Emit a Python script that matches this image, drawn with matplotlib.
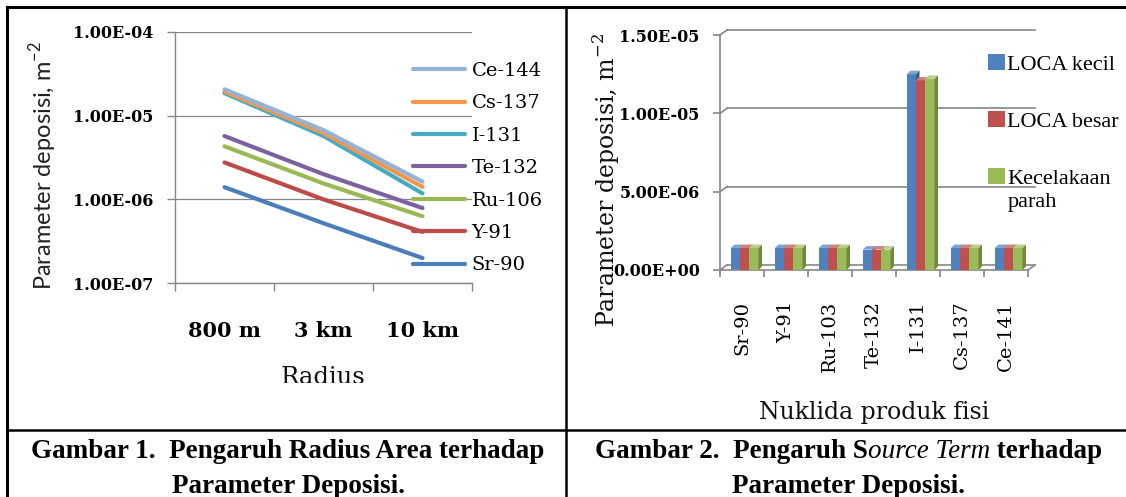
import matplotlib
matplotlib.use("Agg")
import matplotlib.pyplot as plt
from matplotlib.lines import Line2D
from matplotlib.patches import Polygon, Patch
from matplotlib.transforms import offset_copy, IdentityTransform, Bbox, TransformedBbox
from matplotlib.ticker import FuncFormatter, FixedLocator

W, H = 1126, 497

# Gambar 1 data (deposition parameter vs radius)
radius = ["800 m", "3 km", "10 km"]
sr90 = [1.4e-6, 5.2e-7, 2.0e-7]
y91 = [2.76e-6, 1.0e-6, 4.1e-7]
ru106 = [4.3e-6, 1.55e-6, 6.3e-7]
te132 = [5.7e-6, 2.0e-6, 7.9e-7]
i131 = [1.85e-5, 5.7e-6, 1.18e-6]
cs137 = [1.93e-5, 6.2e-6, 1.41e-6]
ce144 = [2.06e-5, 6.7e-6, 1.63e-6]
line_names = ["Sr-90", "Y-91", "Ru-106", "Te-132", "I-131", "Cs-137", "Ce-144"]
line_colors = ["#4A7EBB", "#BE4B48", "#98B954", "#7D60A0", "#46AAC5", "#F79646", "#95B3D7"]

# Gambar 2 data (deposition parameter vs source term)
nuklida = ["Sr-90", "Y-91", "Ru-103", "Te-132", "I-131", "Cs-137", "Ce-141"]
loca_kecil = [1.4e-6, 1.4e-6, 1.4e-6, 1.3e-6, 1.25e-5, 1.4e-6, 1.4e-6]
loca_besar = [1.4e-6, 1.4e-6, 1.4e-6, 1.3e-6, 1.21e-5, 1.4e-6, 1.4e-6]
kecelakaan_parah = [1.4e-6, 1.4e-6, 1.4e-6, 1.3e-6, 1.22e-5, 1.4e-6, 1.4e-6]
bar_names = ["LOCA kecil", "LOCA besar", "Kecelakaan"]
bar_colors = ["#4F81BD", "#C0504D", "#9BBB59"]
side_colors = ["#385D8A", "#8C3836", "#71893F"]
top_colors = ["#7FA3D2", "#D47F7D", "#B8D08A"]

GRAY = "#868686"
SERIF = "DejaVu Serif"
SERIF2 = "Liberation Serif"

fig = plt.figure(figsize=(W / 100, H / 100), dpi=100)


def fx(x):
    return x / W


def fy(y):
    return 1 - y / H


def sci(v, pos=None):
    return "%.2E" % v


# ---------------- left chart ----------------
ax1 = fig.add_axes([fx(175), fy(283.3), 297 / W, 251.6 / H])
series = [sr90, y91, ru106, te132, i131, cs137, ce144]
handles = []
for name, vals, c in zip(line_names, series, line_colors):
    h, = ax1.plot(range(len(radius)), vals, color=c, lw=3, solid_capstyle="round",
                  solid_joinstyle="round", label=name, zorder=3)
    handles.append(h)
ax1.set_yscale("log")
ax1.set_ylim(1e-7, 1e-4)
ax1.set_xlim(-0.5, 2.5)
ax1.yaxis.set_major_locator(FixedLocator([1e-7, 1e-6, 1e-5, 1e-4]))
ax1.yaxis.set_minor_locator(FixedLocator([]))
ax1.yaxis.set_major_formatter(FuncFormatter(sci))
ax1.set_xticks(range(len(radius)))
ax1.set_xticklabels(radius, fontfamily=SERIF, fontweight="bold", fontsize=15)
ax1.xaxis.set_minor_locator(FixedLocator([-0.5, 0.5, 1.5, 2.5]))
ax1.tick_params(axis="x", which="major", length=0, pad=27)
ax1.tick_params(axis="x", which="minor", length=6, width=1, color=GRAY, direction="out")
ax1.tick_params(axis="y", which="major", length=6, width=1, color=GRAY, pad=9.5)
for t in ax1.get_yticklabels():
    t.set_fontfamily(SERIF)
    t.set_fontweight("bold")
    t.set_fontsize(11.5)
ax1.yaxis.grid(True, color=GRAY, lw=0.9)
for s in ["top", "right"]:
    ax1.spines[s].set_visible(False)
for s in ["left", "bottom"]:
    ax1.spines[s].set_color(GRAY)
    ax1.spines[s].set_linewidth(1)
ax1.set_axisbelow(True)

ax1.legend(handles[::-1], line_names[::-1], loc="upper left",
           bbox_to_anchor=(fx(413), fy(62)), bbox_transform=fig.transFigure,
           frameon=False, borderpad=0, borderaxespad=0, handlelength=2.68,
           handletextpad=0.33, labelspacing=0.74,
           prop={"family": SERIF, "size": 14})

fig.text(fx(43), fy(165.5), "Parameter deposisi, m$^{\\mathregular{-2}}$", rotation=90,
         ha="center", va="center", fontsize=17, family="Lato", color="#222222")
rad = fig.text(fx(323), fy(365.5), "Radius", ha="center", va="top", fontsize=17.5,
               family=SERIF, color="#111111")
rad.set_clip_box(TransformedBbox(Bbox([[0, fy(383)], [0.5, 1]]), fig.transFigure))
rad.set_clip_on(True)

# ---------------- right chart ----------------
ax2 = fig.add_axes([fx(720), fy(270), 308 / W, 235 / H])
ax2.set_xlim(-0.5, len(nuklida) - 0.5)
ax2.set_ylim(0, 1.5e-5)
ax2.yaxis.set_major_locator(FixedLocator([0, 5e-6, 1e-5, 1.5e-5]))
ax2.yaxis.set_major_formatter(FuncFormatter(sci))
ax2.set_xticks(range(len(nuklida)))
ax2.set_xticklabels(nuklida, rotation=90, fontfamily=SERIF, fontsize=14)
ax2.xaxis.set_minor_locator(FixedLocator([i - 0.5 for i in range(len(nuklida) + 1)]))
ax2.tick_params(axis="x", which="major", length=0, pad=22)
ax2.tick_params(axis="x", which="minor", length=5, width=1.2, color=GRAY)
ax2.tick_params(axis="y", which="major", length=5, width=1.2, color=GRAY, pad=9.5)
for t in ax2.get_yticklabels():
    t.set_fontfamily(SERIF)
    t.set_fontweight("bold")
    t.set_fontsize(11.5)
for s in ["top", "right"]:
    ax2.spines[s].set_visible(False)
for s in ["left", "bottom"]:
    ax2.spines[s].set_color(GRAY)
    ax2.spines[s].set_linewidth(1.2)

# back wall gridlines with a small 3D offset
DX, DY = 7, 5
back = offset_copy(ax2.transData, fig=fig, x=DX, y=DY, units="dots")
x_lo, x_hi = ax2.get_xlim()
for yv in [0, 5e-6, 1e-5, 1.5e-5]:
    ax2.plot([x_lo, x_hi], [yv, yv], transform=back, color=GRAY, lw=1.2,
             clip_on=False, zorder=1)
    p = ax2.transData.transform((x_lo, yv))
    ax2.plot([p[0], p[0] + DX], [p[1], p[1] + DY], transform=IdentityTransform(),
             color=GRAY, lw=1.2, clip_on=False, zorder=1)
p = ax2.transData.transform((x_hi, 0))
ax2.plot([p[0], p[0] + DX], [p[1], p[1] + DY], transform=IdentityTransform(),
         color=GRAY, lw=1.2, clip_on=False, zorder=1)

# 3D-ish bars
bw = 0.21
shift = 0.06
bdx, bdy = 3.5, 3.5
bar_series = [loca_kecil, loca_besar, kecelakaan_parah]
for k, vals in enumerate(bar_series):
    xs = [i + (k - 1) * bw + shift for i in range(len(nuklida))]
    rects = ax2.bar(xs, vals, width=bw, color=bar_colors[k], linewidth=0)
    for j, r in enumerate(rects):
        z = 2 + j * 3 + k
        r.set_zorder(z)
        x0, x1 = r.get_x(), r.get_x() + r.get_width()
        hgt = r.get_height()
        br = ax2.transData.transform((x1, 0))
        tl = ax2.transData.transform((x0, hgt))
        tr = ax2.transData.transform((x1, hgt))
        top = Polygon([tl, tr, tr + (bdx, bdy), tl + (bdx, bdy)], closed=True,
                      facecolor=top_colors[k], edgecolor="none",
                      transform=IdentityTransform(), zorder=z + 0.5, clip_on=False)
        side = Polygon([br, tr, tr + (bdx, bdy), br + (bdx, bdy)], closed=True,
                       facecolor=side_colors[k], edgecolor="none",
                       transform=IdentityTransform(), zorder=z + 0.5, clip_on=False)
        ax2.add_patch(top)
        ax2.add_patch(side)

bar_handles = [Patch(facecolor=c, edgecolor="none") for c in bar_colors]
leg2 = ax2.legend(bar_handles, bar_names, loc="upper left",
                  bbox_to_anchor=(fx(988), fy(54)), bbox_transform=fig.transFigure,
                  frameon=False, borderpad=0, borderaxespad=0, handlelength=0.75,
                  handleheight=0.75, handletextpad=0.12, labelspacing=1.62,
                  prop={"family": SERIF2, "size": 16})

fig.text(fx(606), fy(180), "Parameter deposisi, m$^{\\mathregular{-2}}$", rotation=90,
         ha="center", va="center", fontsize=17, family=SERIF, color="#111111")
fig.text(fx(874), fy(413), "Nuklida produk fisi", ha="center", va="center",
         fontsize=17, family=SERIF, color="#111111")

# ---------------- table frame ----------------
for xs_, ys_, lw in [([7, W], [7, 7], 2.2), ([7, 7], [7, H], 2.2),
                     ([566, 566], [7, H], 1.8), ([7, W], [430, 430], 1.8)]:
    fig.add_artist(Line2D([fx(v) for v in xs_], [fy(v) for v in ys_],
                          color="black", lw=lw, transform=fig.transFigure))

# ---------------- captions ----------------
CAP = "Liberation Serif"
cap_size = 19.5
fig.text(fx(288), fy(458), "Gambar 1.  Pengaruh Radius Area terhadap", ha="center",
         va="baseline", fontsize=cap_size, family=CAP, fontweight="bold")
fig.text(fx(288), fy(493), "Parameter Deposisi.", ha="center", va="baseline",
         fontsize=cap_size, family=CAP, fontweight="bold")
fig.text(fx(849), fy(493), "Parameter Deposisi.", ha="center", va="baseline",
         fontsize=cap_size, family=CAP, fontweight="bold")

pieces = [("Gambar 2.  Pengaruh S", "normal", "bold"),
          ("ource Term", "italic", "normal"),
          (" terhadap", "normal", "bold")]
texts = [fig.text(0, fy(458), s, ha="left", va="baseline", fontsize=cap_size,
                  family=CAP, fontstyle=st, fontweight=wt) for s, st, wt in pieces]
fig.canvas.draw()
renderer = fig.canvas.get_renderer()
widths = [t.get_window_extent(renderer).width for t in texts]
x = 849 - sum(widths) / 2
for t, w in zip(texts, widths):
    t.set_x(fx(x))
    x += w

# second line of the last legend entry, placed under "Kecelakaan"
kbox = leg2.get_texts()[2].get_window_extent(renderer)
fig.text(kbox.x0 / W, (kbox.y0 - 4) / H, "parah", ha="left", va="top",
         family=SERIF2, fontsize=16)

fig.savefig("out.png", dpi=100)
